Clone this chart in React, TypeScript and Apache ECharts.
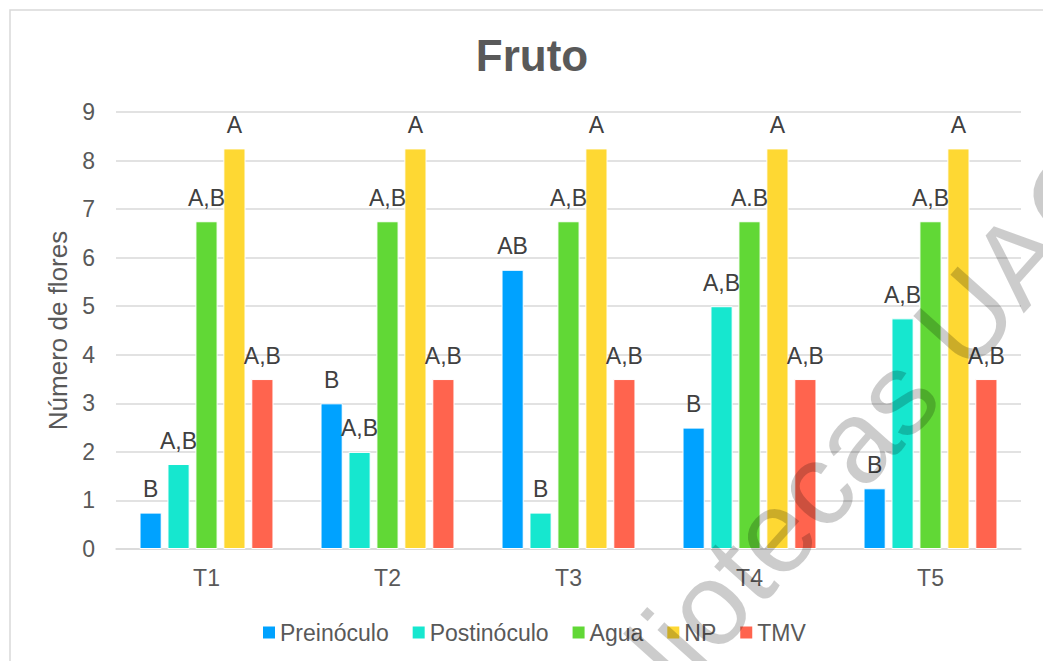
import React, { useEffect, useRef } from "react";
import * as echarts from "echarts";

const categories = ["T1", "T2", "T3", "T4", "T5"];
const seriesNames = ["Preinóculo", "Postinóculo", "Agua", "NP", "TMV"];
const preinoculo = [0.75, 3, 5.75, 2.5, 1.25];
const postinoculo = [1.75, 2, 0.75, 5, 4.75];
const agua = [6.75, 6.75, 6.75, 6.75, 6.75];
const np = [8.25, 8.25, 8.25, 8.25, 8.25];
const tmv = [3.5, 3.5, 3.5, 3.5, 3.5];
const preLabels = ["B", "B", "AB", "B", "B"];
const postLabels = ["A,B", "A,B", "B", "A,B", "A,B"];
const aguaLabels = ["A,B", "A,B", "A,B", "A.B", "A,B"];
const npLabels = ["A", "A", "A", "A", "A"];
const tmvLabels = ["A,B", "A,B", "A,B", "A,B", "A,B"];
const colors = ["#00A2FF", "#16E7CF", "#61D836", "#FED833", "#FF644E"];
const yTicks = [0, 9, 1];

const FONT = "'Liberation Sans', Arial, sans-serif";

export default function App() {
  const ref = useRef<HTMLDivElement>(null);
  useEffect(() => {
    if (!ref.current) return;
    const chart = echarts.init(ref.current, undefined, { renderer: "svg" });
    const values = [preinoculo, postinoculo, agua, np, tmv];
    const labels = [preLabels, postLabels, aguaLabels, npLabels, tmvLabels];
    chart.setOption({
      animation: false,
      backgroundColor: "#fff",
      textStyle: { fontFamily: FONT },
      title: {
        text: "Fruto",
        left: 527,
        top: 28,
        textAlign: "center",
        textStyle: { fontSize: 44, fontWeight: "bold", color: "#595959", fontFamily: FONT },
      },
      grid: { left: 116, right: 22, top: 112, bottom: 112 },
      legend: {
        left: 256,
        top: 616,
        itemWidth: 14,
        itemHeight: 14,
        itemGap: 22,
        icon: "rect",
        textStyle: { fontSize: 23, color: "#595959", fontFamily: FONT, padding: [0, 0, 0, -1] },
        data: seriesNames,
      },
      xAxis: {
        type: "category",
        data: categories,
        axisLine: { lineStyle: { color: "#D9D9D9", width: 1.5 } },
        axisTick: { show: false },
        axisLabel: { fontSize: 23, color: "#595959", margin: 17, fontFamily: FONT },
      },
      yAxis: {
        type: "value",
        min: yTicks[0],
        max: yTicks[1],
        interval: yTicks[2],
        name: "Número de flores",
        nameLocation: "middle",
        nameGap: 41,
        nameTextStyle: { fontSize: 26, color: "#595959", fontFamily: FONT },
        axisLine: { show: false },
        axisTick: { show: false },
        axisLabel: { fontSize: 23, color: "#595959", margin: 21, fontFamily: FONT },
        splitLine: { lineStyle: { color: "#D9D9D9", width: 1.5 } },
      },
      series: seriesNames.map((name, i) => ({
        name,
        type: "bar",
        data: values[i],
        barGap: "26%",
        barCategoryGap: "26%",
        itemStyle: { color: colors[i], borderColor: "#fff", borderWidth: 1 },
        label: {
          show: true,
          position: "top",
          distance: 12,
          fontSize: 23,
          color: "#404040",
          fontFamily: FONT,
          formatter: (p: any) => labels[i][p.dataIndex],
        },
      })),
      graphic: [
        {
          type: "rect",
          silent: true,
          z: -1,
          shape: { x: 10, y: 10, width: 1100, height: 700 },
          style: { fill: "none", stroke: "#D9D9D9", lineWidth: 1.5 },
        },
        {
          type: "text",
          silent: true,
          z: 100,
          x: 822,
          y: 478,
          rotation: 0.84,
          style: {
            text: "Bibliotecas UAQ",
            fontSize: 117,
            fontFamily: FONT,
            fill: "rgba(0,0,0,0.2)",
            textAlign: "center",
            textVerticalAlign: "middle",
          },
        },
      ],
    });
    return () => chart.dispose();
  }, []);
  return (
    <div
      ref={ref}
      style={{ position: "fixed", left: 0, top: 0, width: 1043, height: 661 }}
    />
  );
}
